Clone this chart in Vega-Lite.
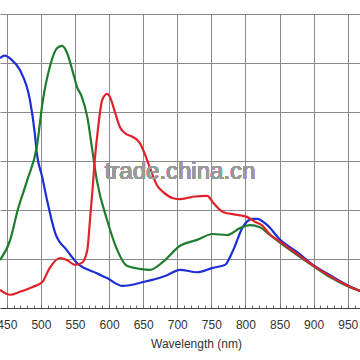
{
  "$schema": "https://vega.github.io/schema/vega-lite/v6.json",
  "width": 360,
  "height": 294,
  "autosize": {"type": "none"},
  "padding": {"top": 14, "left": 0, "right": 0, "bottom": 52},
  "background": "white",
  "config": {"view": {"stroke": null}},
  "data": {"values": [
    {"wl": 440, "v": 51.0, "s": "blue"},
    {"wl": 447, "v": 51.5, "s": "blue"},
    {"wl": 456, "v": 50.8, "s": "blue"},
    {"wl": 469, "v": 48.6, "s": "blue"},
    {"wl": 484, "v": 42.4, "s": "blue"},
    {"wl": 491, "v": 35.7, "s": "blue"},
    {"wl": 494, "v": 31.6, "s": "blue"},
    {"wl": 502, "v": 26.7, "s": "blue"},
    {"wl": 509, "v": 22.0, "s": "blue"},
    {"wl": 521, "v": 15.3, "s": "blue"},
    {"wl": 538, "v": 11.8, "s": "blue"},
    {"wl": 553, "v": 9.2, "s": "blue"},
    {"wl": 582, "v": 7.1, "s": "blue"},
    {"wl": 597, "v": 6.1, "s": "blue"},
    {"wl": 620, "v": 4.5, "s": "blue"},
    {"wl": 650, "v": 5.3, "s": "blue"},
    {"wl": 685, "v": 6.7, "s": "blue"},
    {"wl": 704, "v": 7.8, "s": "blue"},
    {"wl": 729, "v": 7.3, "s": "blue"},
    {"wl": 752, "v": 8.2, "s": "blue"},
    {"wl": 770, "v": 8.8, "s": "blue"},
    {"wl": 782, "v": 11.8, "s": "blue"},
    {"wl": 796, "v": 16.5, "s": "blue"},
    {"wl": 810, "v": 18.2, "s": "blue"},
    {"wl": 817, "v": 18.2, "s": "blue"},
    {"wl": 832, "v": 16.9, "s": "blue"},
    {"wl": 851, "v": 13.9, "s": "blue"},
    {"wl": 876, "v": 11.4, "s": "blue"},
    {"wl": 899, "v": 8.8, "s": "blue"},
    {"wl": 924, "v": 6.7, "s": "blue"},
    {"wl": 949, "v": 4.7, "s": "blue"},
    {"wl": 968, "v": 3.5, "s": "blue"},
    {"wl": 440, "v": 9.8, "s": "green"},
    {"wl": 455, "v": 13.9, "s": "green"},
    {"wl": 466, "v": 20.0, "s": "green"},
    {"wl": 480, "v": 26.1, "s": "green"},
    {"wl": 494, "v": 32.9, "s": "green"},
    {"wl": 503, "v": 42.5, "s": "green"},
    {"wl": 513, "v": 49.2, "s": "green"},
    {"wl": 524, "v": 53.1, "s": "green"},
    {"wl": 531, "v": 53.5, "s": "green"},
    {"wl": 538, "v": 52.2, "s": "green"},
    {"wl": 546, "v": 48.6, "s": "green"},
    {"wl": 553, "v": 45.1, "s": "green"},
    {"wl": 560, "v": 43.1, "s": "green"},
    {"wl": 568, "v": 39.0, "s": "green"},
    {"wl": 576, "v": 31.6, "s": "green"},
    {"wl": 582, "v": 26.1, "s": "green"},
    {"wl": 597, "v": 18.0, "s": "green"},
    {"wl": 612, "v": 11.8, "s": "green"},
    {"wl": 626, "v": 8.6, "s": "green"},
    {"wl": 645, "v": 8.0, "s": "green"},
    {"wl": 660, "v": 7.8, "s": "green"},
    {"wl": 679, "v": 9.4, "s": "green"},
    {"wl": 704, "v": 12.7, "s": "green"},
    {"wl": 729, "v": 13.9, "s": "green"},
    {"wl": 752, "v": 15.1, "s": "green"},
    {"wl": 773, "v": 14.9, "s": "green"},
    {"wl": 792, "v": 16.3, "s": "green"},
    {"wl": 807, "v": 16.9, "s": "green"},
    {"wl": 821, "v": 16.5, "s": "green"},
    {"wl": 836, "v": 14.9, "s": "green"},
    {"wl": 851, "v": 13.3, "s": "green"},
    {"wl": 876, "v": 10.8, "s": "green"},
    {"wl": 899, "v": 8.6, "s": "green"},
    {"wl": 924, "v": 6.3, "s": "green"},
    {"wl": 949, "v": 4.5, "s": "green"},
    {"wl": 968, "v": 3.5, "s": "green"},
    {"wl": 440, "v": 3.7, "s": "red"},
    {"wl": 455, "v": 2.7, "s": "red"},
    {"wl": 469, "v": 3.3, "s": "red"},
    {"wl": 488, "v": 4.3, "s": "red"},
    {"wl": 502, "v": 5.3, "s": "red"},
    {"wl": 513, "v": 8.2, "s": "red"},
    {"wl": 528, "v": 10.2, "s": "red"},
    {"wl": 538, "v": 9.8, "s": "red"},
    {"wl": 550, "v": 8.8, "s": "red"},
    {"wl": 560, "v": 9.2, "s": "red"},
    {"wl": 568, "v": 11.8, "s": "red"},
    {"wl": 572, "v": 18.0, "s": "red"},
    {"wl": 576, "v": 24.7, "s": "red"},
    {"wl": 579, "v": 30.2, "s": "red"},
    {"wl": 584, "v": 36.9, "s": "red"},
    {"wl": 590, "v": 42.5, "s": "red"},
    {"wl": 597, "v": 43.7, "s": "red"},
    {"wl": 601, "v": 43.1, "s": "red"},
    {"wl": 609, "v": 39.8, "s": "red"},
    {"wl": 616, "v": 36.9, "s": "red"},
    {"wl": 623, "v": 35.7, "s": "red"},
    {"wl": 635, "v": 34.9, "s": "red"},
    {"wl": 645, "v": 33.7, "s": "red"},
    {"wl": 653, "v": 31.2, "s": "red"},
    {"wl": 660, "v": 28.6, "s": "red"},
    {"wl": 670, "v": 25.1, "s": "red"},
    {"wl": 679, "v": 23.7, "s": "red"},
    {"wl": 694, "v": 22.4, "s": "red"},
    {"wl": 704, "v": 22.2, "s": "red"},
    {"wl": 723, "v": 22.7, "s": "red"},
    {"wl": 744, "v": 22.9, "s": "red"},
    {"wl": 752, "v": 21.6, "s": "red"},
    {"wl": 767, "v": 19.6, "s": "red"},
    {"wl": 788, "v": 19.0, "s": "red"},
    {"wl": 802, "v": 18.6, "s": "red"},
    {"wl": 814, "v": 17.6, "s": "red"},
    {"wl": 824, "v": 16.9, "s": "red"},
    {"wl": 836, "v": 15.0, "s": "red"},
    {"wl": 851, "v": 13.5, "s": "red"},
    {"wl": 876, "v": 11.0, "s": "red"},
    {"wl": 899, "v": 8.7, "s": "red"},
    {"wl": 924, "v": 6.5, "s": "red"},
    {"wl": 949, "v": 4.6, "s": "red"},
    {"wl": 968, "v": 3.5, "s": "red"}
  ]},
  "layer": [
    {
      "mark": {"type": "line", "strokeWidth": 2.2, "interpolate": "monotone", "clip": true},
      "encoding": {
        "x": {
          "field": "wl", "type": "quantitative",
          "scale": {"domain": [440, 968], "nice": false, "zero": false},
          "axis": {
            "values": [450,460,470,480,490,500,510,520,530,540,550,560,570,580,590,600,610,620,630,640,650,660,670,680,690,700,710,720,730,740,750,760,770,780,790,800,810,820,830,840,850,860,870,880,890,900,910,920,930,940,950,960],
            "tickCount": 100,
            "labelExpr": "datum.value % 50 === 0 ? datum.label : ''",
            "labelOverlap": false,
            "labelFlush": false,
            "labelFont": "Liberation Sans",
            "labelFontSize": 12,
            "labelColor": "#333333",
            "labelPadding": 14,
            "tickSize": -3,
            "tickColor": "#666666",
            "domainColor": "#444444",
            "domainWidth": 1,
            "grid": true,
            "gridColor": "#8a8a8a",
            "gridWidth": 1,
            "gridOpacity": {"condition": {"test": "datum.value % 50 === 0", "value": 1}, "value": 0},
            "title": "Wavelength (nm)",
            "titleFont": "Liberation Sans",
            "titleFontSize": 12,
            "titleFontWeight": "normal",
            "titleColor": "#333333",
            "titleX": 196,
            "titlePadding": 8
          }
        },
        "y": {
          "field": "v", "type": "quantitative",
          "scale": {"domain": [0, 60], "nice": false},
          "axis": {
            "values": [0, 10, 20, 30, 40, 50, 60],
            "labels": false, "ticks": false, "domain": false, "title": null,
            "grid": true, "gridColor": "#8a8a8a", "gridWidth": 1
          }
        },
        "color": {
          "field": "s", "type": "nominal",
          "scale": {"domain": ["red", "green", "blue"], "range": ["#e0232b", "#1e7d2e", "#1d2fd4"]},
          "legend": null
        }
      }
    },
    {
      "mark": {"type": "text", "text": "trade.china.cn", "font": "Liberation Sans", "fontSize": 24, "color": "#9a9a9a", "opacity": 0.85, "baseline": "middle", "align": "center"},
      "encoding": {
        "x": {"datum": 704, "type": "quantitative"},
        "y": {"datum": 27.8, "type": "quantitative"}
      }
    }
  ]
}
